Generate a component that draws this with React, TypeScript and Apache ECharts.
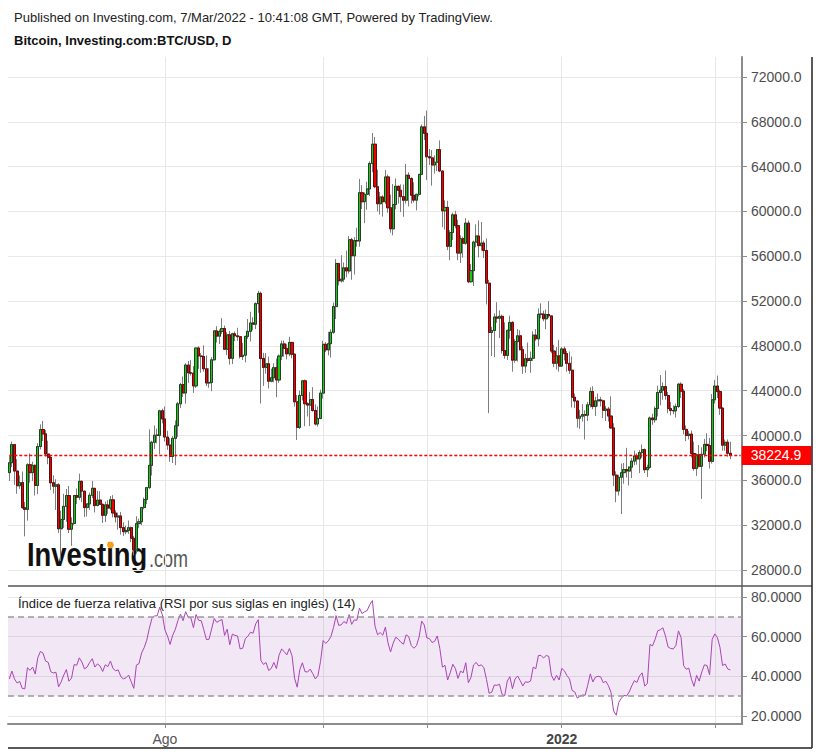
import React, { useEffect, useRef } from 'react';
import * as echarts from 'echarts';

// ---------- data (BTC/USD daily, 2 Jun 2021 – 7 Mar 2022) ----------
const startDate = '2021-06-02';
const paddingDays = 4; // empty days to the right of the last candle

// closes before the first drawn day (1 May – 1 Jun 2021), used to seed the RSI(14)
const priorCloses = [
  57800, 56580, 57170, 53210, 57490, 56440, 57400, 58860, 58280, 55860, 56750, 49150, 49720, 49880, 46760, 46460,
  43540, 42910, 36730, 40630, 37290, 37540, 34770, 38710, 38390, 39300, 38440, 35680, 34620, 35680, 37330, 36690,
];

const closes = [
  // Jun
  37570, 39190, 36830, 35520, 35800, 33560, 33410, 37390, 36690, 37340, 35550, 39020, 40530, 40150, 38350, 38050,
  35790, 35480, 35600, 31680, 32510, 33680, 34640, 31640, 32160, 34650, 34490, 35910, 35040,
  // Jul
  33570, 33900, 34670, 35290, 33750, 34240, 33860, 32880, 33810, 33520, 34260, 33090, 32730, 32820, 31780, 31420,
  31530, 31780, 30840, 29790, 32140, 32310, 33580, 34290, 35350, 37340, 39400, 40030, 40020, 42210, 41480,
  // Aug
  39870, 39150, 38130, 39750, 40870, 42830, 44550, 43800, 46290, 45600, 45570, 44430, 47810, 47100, 47050, 45960,
  44690, 44740, 46760, 49340, 48870, 49290, 49550, 47700, 48990, 46890, 49080, 48900, 48820, 47050, 47170,
  // Sep
  48850, 49300, 50050, 49940, 51770, 52690, 46880, 46080, 46400, 44850, 45160, 46060, 44960, 47090, 48180, 47780,
  47290, 48310, 47260, 43010, 40730, 43580, 44880, 42840, 42720, 43210, 42240, 41030, 41520, 43790,
  // Oct
  48140, 47640, 48200, 49220, 51510, 55360, 53800, 53960, 54970, 54690, 57480, 56040, 57400, 57360, 61670, 60870,
  61530, 62010, 64280, 66000, 62210, 60690, 61290, 60860, 63080, 60330, 58450, 60620, 62250, 61890, 61320,
  // Nov
  61000, 63230, 62940, 61450, 61010, 61530, 63310, 67550, 66970, 64880, 64780, 64150, 64400, 65520, 63610, 60060,
  60360, 56890, 58120, 59700, 58730, 56290, 57570, 57170, 58960, 53730, 54720, 57270, 57810, 56950,
  // Dec
  57180, 56510, 53600, 49200, 49370, 50580, 50470, 50640, 47590, 47150, 49390, 50100, 46730, 48380, 48900, 47660,
  46200, 46850, 46700, 46900, 48960, 48630, 50820, 50840, 50420, 50800, 50680, 47540, 46460, 47120, 46200,
  // Jan
  47730, 47310, 46440, 45830, 43420, 43080, 41550, 41730, 41870, 41820, 42740, 43920, 42590, 43100, 43180, 43100,
  42250, 42370, 41740, 40680, 36470, 35060, 36280, 36690, 36960, 36830, 37180, 37720, 38180, 37920, 38480,
  // Feb
  38740, 36950, 37150, 41570, 41410, 42410, 43840, 44040, 44370, 43570, 42410, 42240, 42200, 42590, 44580, 43960,
  40550, 40000, 40130, 38400, 37070, 38290, 37260, 38330, 39210, 39110, 37700, 43190,
  // Mar
  44420, 43920, 42450, 39140, 39400, 38420, 38224.9,
];

const highs = [
  // Jun
  38220, 39470, 39250, 37890, 36440, 36790, 34070, 37530, 38400, 37660, 37430, 39320, 41000, 41300, 40500, 39540,
  38200, 36440, 36100, 35750, 33300, 34800, 35230, 35500, 32700, 34700, 35280, 36600, 36000,
  // Jul
  35040, 33940, 34910, 35950, 35290, 35070, 35030, 33920, 34100, 34230, 34600, 34680, 33340, 33120, 33170, 32250,
  31950, 32420, 31880, 31050, 32800, 32580, 33630, 34470, 35400, 40550, 39530, 40900, 40620, 42300, 42400,
  // Aug
  42600, 40430, 39770, 39950, 41350, 43000, 44700, 45270, 46450, 46650, 46740, 46200, 47850, 47970, 47360, 48050,
  47140, 46000, 47000, 49350, 49760, 49480, 50480, 49820, 49230, 49340, 49170, 49290, 49620, 48900, 48280,
  // Sep
  48900, 50400, 51050, 50560, 51880, 52920, 52850, 47380, 47350, 47050, 45970, 46450, 46870, 47240, 48470, 48480,
  48150, 48810, 48350, 47330, 43620, 44000, 44970, 45000, 42970, 43900, 44320, 42790, 42600, 44100,
  // Oct
  48460, 48340, 49260, 49480, 51870, 55750, 55400, 56100, 55450, 56500, 57800, 57650, 57700, 58550, 62900, 62350,
  61700, 62650, 64470, 67000, 66650, 63720, 61740, 61450, 63700, 63290, 61500, 62440, 62950, 62300, 62420,
  // Nov
  62400, 64250, 63500, 63050, 62600, 61570, 63320, 67770, 68530, 69000, 65580, 65480, 65000, 65550, 66340, 63610,
  61000, 60950, 58320, 59900, 60050, 59260, 57870, 57750, 59400, 59200, 55300, 57400, 58850, 59200,
  // Dec
  59050, 57400, 57600, 53900, 49700, 50900, 51900, 51170, 50800, 50100, 49450, 50700, 50200, 48600, 49500, 49400,
  48000, 47300, 48300, 47500, 49300, 49500, 51350, 51800, 51150, 51250, 52000, 50700, 48100, 47900, 48550,
  // Jan
  47900, 47950, 47550, 47500, 47050, 43750, 43150, 42300, 42800, 42250, 43000, 44300, 44400, 43450, 43750, 43450,
  43200, 42650, 42550, 43500, 41100, 36800, 36500, 37500, 37550, 38900, 37250, 38000, 38650, 38400, 38700,
  // Feb
  39200, 38850, 37400, 41700, 41950, 42600, 44450, 45400, 44750, 45800, 43900, 43000, 42700, 42850, 44700, 44750,
  44150, 40900, 40400, 40450, 39450, 38400, 39150, 38950, 39700, 40200, 39800, 43700,
  // Mar
  44950, 45350, 44100, 42500, 39650, 39650, 39450,
];

const lows = [
  // Jun
  35950, 37190, 35600, 34800, 35250, 33480, 31000, 32400, 35800, 35930, 34650, 34770, 38760, 39510, 38120, 37440,
  35140, 34830, 33360, 31310, 28800, 31750, 32300, 31300, 30160, 32000, 33900, 34250, 34050,
  // Jul
  32720, 32770, 33360, 34420, 33140, 33700, 33800, 32200, 32280, 33010, 33340, 32700, 32240, 31600, 31160, 31050,
  31190, 31230, 30490, 29300, 29490, 31730, 32000, 33420, 33880, 35240, 36430, 38800, 39300, 38330, 41090,
  // Aug
  39460, 38720, 37660, 37550, 37360, 39880, 42450, 43440, 42850, 44700, 45350, 43800, 44250, 45950, 45600, 45700,
  44420, 44260, 43960, 46680, 48300, 48170, 49060, 47630, 47180, 46330, 46380, 48430, 48460, 46870, 46740,
  // Sep
  46530, 48630, 48400, 49390, 49500, 50960, 42850, 44430, 45520, 44200, 44750, 44750, 43420, 44700, 46730, 47030,
  46800, 47070, 46900, 42580, 39600, 40580, 43130, 40830, 41700, 40840, 42130, 40900, 40800, 41450,
  // Oct
  43300, 47440, 47150, 46960, 49080, 50400, 53400, 53650, 53700, 54120, 54450, 53900, 54370, 56850, 56850, 60220,
  58960, 60160, 61380, 63500, 62070, 60000, 59730, 59540, 60670, 59880, 58100, 57870, 60200, 60700, 59950,
  // Nov
  59520, 60700, 60450, 60700, 60800, 60100, 61350, 63290, 66380, 62800, 64150, 62300, 63380, 63600, 63500, 58600,
  58380, 56550, 55650, 57450, 58500, 55650, 55400, 55870, 57020, 53600, 53660, 53350, 56800, 55900,
  // Dec
  56500, 55850, 51700, 42000, 47100, 47000, 50050, 48700, 47330, 46850, 46750, 48650, 45700, 46500, 46600, 47600,
  45500, 45600, 46500, 45600, 46650, 48450, 47950, 50460, 50200, 49500, 50500, 47350, 46100, 45900, 45700,
  // Jan
  46150, 46700, 45700, 45500, 42500, 42450, 40700, 40600, 41250, 39650, 41300, 42500, 42350, 41750, 42600, 42600,
  41550, 41300, 41250, 40600, 35500, 34050, 34650, 33000, 35700, 36250, 35550, 36200, 37350, 37400, 36650,
  // Feb
  38000, 36650, 36300, 37050, 40950, 41150, 41700, 42700, 43200, 43200, 42000, 41800, 41900, 41600, 42450, 43350,
  40100, 39500, 39650, 38050, 36850, 36400, 37150, 34350, 38050, 38600, 37050, 37500,
  // Mar
  42850, 43350, 41850, 38650, 38650, 38100, 37900,
];

const lastPrice = 38224.9;
const gridDates = ['2021-08-01', '2021-10-01', '2021-11-10', '2022-01-01', '2022-03-01'];
const dateLabels: Record<string, string> = { '2021-08-01': 'Ago', '2022-01-01': '2022' };
const rsiPeriod = 14;
const rsiBand = [30, 70];

// ---------- layout constants ----------
const FONT = "'Liberation Sans', Arial, Helvetica, sans-serif";
const PLOT_LEFT = 8;
const PLOT_RIGHT = 78; // axis line at x = 742
const PRICE_TOP = 57;
const PANE_SPLIT = 586;
const RSI_BOTTOM = 724;
// price pane: 72000 at y=77, 28000 at y=570
const PX_PER_PRICE = (570 - 77) / 44000;
const PRICE_MAX = 72000 + (77 - PRICE_TOP) / PX_PER_PRICE;
const PRICE_MIN = 28000 - (PANE_SPLIT - 570) / PX_PER_PRICE;
// rsi pane: 80 at y=597, 20 at y=716
const PX_PER_RSI = (716 - 597) / 60;
const RSI_MAX = 80 + (597 - PANE_SPLIT) / PX_PER_RSI;
const RSI_MIN = 20 - (RSI_BOTTOM - 716) / PX_PER_RSI;

function wilderRSI(series: number[], period: number): number[] {
  const out: number[] = [];
  let avgGain = 0;
  let avgLoss = 0;
  for (let i = 1; i < series.length; i++) {
    const d = series[i] - series[i - 1];
    const g = d > 0 ? d : 0;
    const l = d < 0 ? -d : 0;
    if (i <= period) {
      avgGain += g / period;
      avgLoss += l / period;
    } else {
      avgGain = (avgGain * (period - 1) + g) / period;
      avgLoss = (avgLoss * (period - 1) + l) / period;
    }
    out[i] = i >= period ? (avgLoss === 0 ? 100 : 100 - 100 / (1 + avgGain / avgLoss)) : NaN;
  }
  return out;
}

function buildOption() {
  const n = closes.length;
  const start = new Date(startDate + 'T00:00:00Z').getTime();
  const dates: string[] = [];
  for (let i = 0; i < n + paddingDays; i++) {
    dates.push(new Date(start + i * 86400000).toISOString().slice(0, 10));
  }
  const firstOpen = priorCloses[priorCloses.length - 1];
  const opens = closes.map((_, i) => (i === 0 ? firstOpen : closes[i - 1]));
  const candles = closes.map((c, i) => [opens[i], c, lows[i], highs[i]]);
  const bodies = closes.map((c, i) => [opens[i], c, Math.min(opens[i], c), Math.max(opens[i], c)]);
  const rsiAll = wilderRSI([...priorCloses, ...closes], rsiPeriod);
  const rsi = closes.map((_, i) => +rsiAll[priorCloses.length + i].toFixed(2));
  const lastPriceLine = dates.map(() => lastPrice);

  const isGridDate = (_i: number, v: string) => gridDates.indexOf(v) >= 0;
  const UP = '#14cc14';
  const DOWN = '#f00000';
  const AXIS = '#8c8c8c';
  const GRID = '#e8e8e8';
  const RED = '#ff0000';
  const BAR_W = 2.6;

  return {
    animation: false,
    backgroundColor: '#ffffff',
    grid: [
      { left: PLOT_LEFT, right: PLOT_RIGHT, top: PRICE_TOP, height: PANE_SPLIT - PRICE_TOP },
      { left: PLOT_LEFT, right: PLOT_RIGHT, top: 77, height: 570 - 77 },
      { left: PLOT_LEFT, right: PLOT_RIGHT, top: PANE_SPLIT, height: RSI_BOTTOM - PANE_SPLIT },
      { left: PLOT_LEFT, right: PLOT_RIGHT, top: 597, height: 716 - 597 },
    ],
    xAxis: [
      {
        type: 'category', gridIndex: 0, data: dates, boundaryGap: true,
        axisLine: { show: false }, axisTick: { show: false }, axisLabel: { show: false },
        splitLine: { show: true, interval: isGridDate, alignWithLabel: true, lineStyle: { color: GRID, width: 1 } },
      },
      { type: 'value', gridIndex: 1, min: 0, max: 1, show: false },
      {
        type: 'category', gridIndex: 2, data: dates, boundaryGap: true,
        axisLine: { show: true, onZero: false, lineStyle: { color: AXIS, width: 2 } },
        axisTick: { show: true, interval: isGridDate, alignWithLabel: true, length: 4, lineStyle: { color: AXIS, width: 1 } },
        axisLabel: {
          show: true, interval: isGridDate, margin: 8, color: '#555', fontSize: 14, fontFamily: FONT,
          formatter: (v: string) => (dateLabels[v] === '2022' ? '{b|2022}' : dateLabels[v] || ''),
          rich: { b: { fontWeight: 'bold', color: '#444', fontSize: 14, fontFamily: FONT } },
        },
        splitLine: { show: true, interval: isGridDate, alignWithLabel: true, lineStyle: { color: GRID, width: 1 } },
      },
      { type: 'value', gridIndex: 3, min: 0, max: 1, show: false },
    ],
    yAxis: [
      {
        type: 'value', gridIndex: 0, position: 'right', min: PRICE_MIN, max: PRICE_MAX,
        axisLine: { show: true, onZero: false, lineStyle: { color: AXIS, width: 2 } },
        axisTick: { show: false }, axisLabel: { show: false }, splitLine: { show: false },
      },
      {
        type: 'value', gridIndex: 1, position: 'right', min: 28000, max: 72000, interval: 4000,
        axisLine: { show: false, onZero: false },
        axisTick: { show: true, length: 5, lineStyle: { color: AXIS } },
        axisLabel: { color: '#4d4d4d', fontSize: 14, fontFamily: FONT, margin: 9, formatter: (v: number) => v.toFixed(1) },
        splitLine: { show: true, lineStyle: { color: GRID, width: 1 } },
      },
      {
        type: 'value', gridIndex: 2, position: 'right', min: RSI_MIN, max: RSI_MAX,
        axisLine: { show: true, onZero: false, lineStyle: { color: AXIS, width: 2 } },
        axisTick: { show: false }, axisLabel: { show: false }, splitLine: { show: false },
      },
      {
        type: 'value', gridIndex: 3, position: 'right', min: 20, max: 80, interval: 20,
        axisLine: { show: false, onZero: false },
        axisTick: { show: true, length: 5, lineStyle: { color: AXIS } },
        axisLabel: { color: '#4d4d4d', fontSize: 14, fontFamily: FONT, margin: 9, formatter: (v: number) => v.toFixed(4) },
        splitLine: { show: true, lineStyle: { color: GRID, width: 1 } },
      },
    ],
    series: [
      {
        name: 'wicks', type: 'candlestick', xAxisIndex: 0, yAxisIndex: 0, data: candles, barWidth: BAR_W,
        itemStyle: { color: UP, color0: DOWN, borderColor: '#7d7d7d', borderColor0: '#7d7d7d', borderWidth: 1 },
        z: 2,
      },
      {
        name: 'BTC/USD', type: 'candlestick', xAxisIndex: 0, yAxisIndex: 0, data: bodies, barWidth: BAR_W,
        itemStyle: { color: UP, color0: DOWN, borderColor: '#2a3a2a', borderColor0: '#551010', borderWidth: 1 },
        z: 3,
      },
      {
        name: 'last price', type: 'line', xAxisIndex: 0, yAxisIndex: 0, data: lastPriceLine,
        symbol: 'none', showSymbol: false, silent: true, color: RED,
        lineStyle: { color: RED, width: 1.5, type: [3, 2], opacity: 1 },
        z: 4,
        endLabel: {
          show: true, distance: 1, formatter: () => lastPrice.toFixed(1),
          color: '#ffffff', backgroundColor: RED, fontSize: 14, fontFamily: FONT, padding: [3, 10, 2, 9],
        },
      },
      {
        name: 'RSI', type: 'line', xAxisIndex: 2, yAxisIndex: 2, data: rsi, symbol: 'none', showSymbol: false,
        lineStyle: { color: '#a845b5', width: 1 },
        z: 3,
        markArea: {
          silent: true, itemStyle: { color: 'rgba(150, 60, 165, 0.12)' },
          data: [[{ yAxis: rsiBand[0] }, { yAxis: rsiBand[1] }]],
        },
        markLine: {
          silent: true, symbol: ['none', 'none'], label: { show: false },
          lineStyle: { color: '#9a9a9a', type: [6, 4], width: 1.5 },
          emphasis: { disabled: true },
          data: [{ yAxis: rsiBand[1] }, { yAxis: rsiBand[0] }],
        },
      },
    ],
    graphic: [
      {
        type: 'text', x: 14, y: 17, z: 100,
        style: { text: 'Published on Investing.com, 7/Mar/2022 - 10:41:08 GMT, Powered by TradingView.', fontSize: 13, fontFamily: FONT, fill: '#222', verticalAlign: 'middle' },
      },
      {
        type: 'text', x: 14, y: 40, z: 100,
        style: { text: 'Bitcoin, Investing.com:BTC/USD, D', fontSize: 13, fontWeight: 'bold', fontFamily: FONT, fill: '#111', verticalAlign: 'middle' },
      },
      {
        type: 'text', x: 18, y: 603, z: 100,
        style: { text: 'Índice de fuerza relativa (RSI por sus siglas en inglés) (14)', fontSize: 13, fontFamily: FONT, fill: '#222', verticalAlign: 'middle' },
      },
      {
        type: 'group', x: 27, y: 0, z: 90,
        children: [
          { type: 'text', x: 0, y: 555, scaleX: 0.83, style: { text: 'Investing', fontSize: 33, fontWeight: 'bold', fontFamily: FONT, fill: '#111', verticalAlign: 'middle' } },
          { type: 'circle', shape: { cx: 83.5, cy: 545, r: 3.4 }, style: { fill: '#f6a21d' } },
          { type: 'text', x: 122, y: 558.5, scaleX: 0.75, style: { text: '.com', fontSize: 24, fontFamily: FONT, fill: '#555', verticalAlign: 'middle' } },
        ],
      },
      { type: 'line', z: 100, shape: { x1: 8, y1: PANE_SPLIT, x2: 812, y2: PANE_SPLIT }, style: { stroke: '#555', lineWidth: 1.5 } },
      { type: 'line', z: 100, shape: { x1: 812, y1: PRICE_TOP, x2: 812, y2: 748 }, style: { stroke: '#222', lineWidth: 1.5 } },
      { type: 'line', z: 100, shape: { x1: 8, y1: 748, x2: 812, y2: 748 }, style: { stroke: '#222', lineWidth: 1.5 } },
    ],
  };
}

export default function App() {
  const ref = useRef<HTMLDivElement>(null);
  useEffect(() => {
    if (!ref.current) return;
    const chart = echarts.init(ref.current, undefined, { renderer: 'svg', width: 820, height: 755 });
    chart.setOption(buildOption() as any);
    return () => chart.dispose();
  }, []);
  return (
    <div
      ref={ref}
      style={{ position: 'absolute', left: 0, top: 0, width: 820, height: 755, background: '#ffffff' }}
    />
  );
}
